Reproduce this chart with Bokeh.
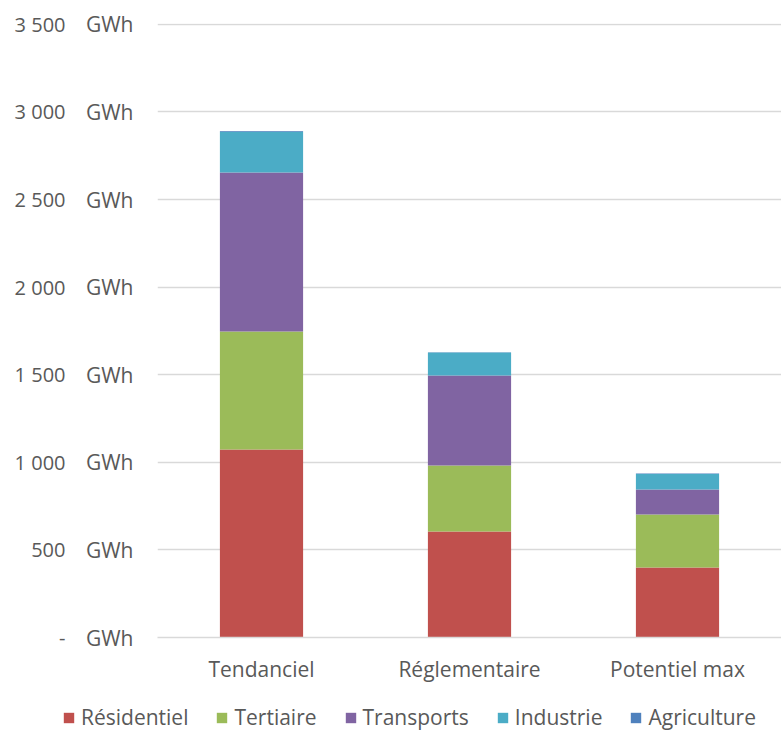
from bokeh.plotting import figure
from bokeh.models import FactorRange, Range1d, LinearAxis, FixedTicker, Legend, LegendItem
from bokeh.embed import file_html
from bokeh.resources import INLINE

scenarios = ["Tendanciel", "Réglementaire", "Potentiel max"]
secteurs = ["Résidentiel", "Tertiaire", "Transports", "Industrie", "Agriculture"]
residentiel = [1073, 605, 400]
tertiaire = [674, 377, 302]
transports = [908, 514, 143]
industrie = [232, 131, 89]
agriculture = [5, 2, 2]
colors = ["#C0504D", "#9BBB59", "#8064A2", "#4BACC6", "#4F81BD"]
y_ticks = [0, 500, 1000, 1500, 2000, 2500, 3000, 3500]
y_tick_labels = ["-", "500", "1 000", "1 500", "2 000", "2 500", "3 000", "3 500"]

FONT = "Open Sans"
FS = "21px"
FS_NUM = "20px"
TXT = "#595959"

data = dict(x=scenarios, **{s: v for s, v in zip(secteurs, [residentiel, tertiaire, transports, industrie, agriculture])})

p = figure(x_range=FactorRange(*scenarios, range_padding=0), y_range=Range1d(0, 3505),
           width=781, height=700, output_backend="svg", toolbar_location=None,
           y_axis_location=None)
p.min_border_top = 23
p.min_border_right = 0
p.min_border_left = 157
p.min_border_bottom = 63
p.outline_line_color = None
p.background_fill_color = "white"
p.border_fill_color = "white"

renderers = p.vbar_stack(secteurs, x="x", width=0.4, color=colors, source=data, line_color=None)

ax1 = LinearAxis(ticker=FixedTicker(ticks=y_ticks),
                 major_label_overrides={t: "GWh" for t in y_ticks})
ax2 = LinearAxis(ticker=FixedTicker(ticks=y_ticks),
                 major_label_overrides={t: l for t, l in zip(y_ticks, y_tick_labels)})
for ax, st, fs in ((ax1, 18, FS), (ax2, 11, FS_NUM)):
    ax.axis_line_color = None
    ax.major_tick_line_color = None
    ax.minor_tick_line_color = None
    ax.major_label_text_font = FONT
    ax.major_label_text_font_size = fs
    ax.major_label_text_color = TXT
    ax.major_label_standoff = st
p.add_layout(ax1, "left")
p.add_layout(ax2, "left")
ax2.major_label_text_align = "right"

p.ygrid.ticker = FixedTicker(ticks=y_ticks)
p.ygrid.grid_line_color = "#D9D9D9"
p.ygrid.grid_line_width = 1.5
p.xgrid.grid_line_color = None

p.xaxis.axis_line_color = "#D9D9D9"
p.xaxis.axis_line_width = 1.5
p.xaxis.major_tick_line_color = None
p.xaxis.minor_tick_line_color = None
p.xaxis.major_label_text_font = FONT
p.xaxis.major_label_text_font_size = FS
p.xaxis.major_label_text_color = TXT
p.xaxis.major_label_standoff = 11

# Legend strip: same stacked data as hidden renderers, only the legend is shown
lg = figure(width=781, height=34, output_backend="svg", toolbar_location=None,
            x_range=FactorRange(*scenarios), y_range=Range1d(-20, -10))
lg.min_border = 0
lg.axis.visible = False
lg.grid.visible = False
lg.outline_line_color = None
lg.border_fill_color = "white"
lg.background_fill_color = "white"
lg_renderers = lg.vbar_stack(secteurs, x="x", width=0.4, color=colors, source=data, line_color=None)
for r in lg_renderers:
    r.visible = False

legend = Legend(items=[LegendItem(label=s, renderers=[r]) for s, r in zip(secteurs, lg_renderers)],
                orientation="horizontal", location="left")
legend.label_text_font = FONT
legend.label_text_font_size = FS
legend.label_text_color = TXT
legend.glyph_width = 13
legend.glyph_height = 13
legend.spacing = 27
legend.label_standoff = 6
legend.padding = 0
legend.margin = 62
legend.border_line_color = None
legend.background_fill_alpha = 0
legend.inactive_fill_alpha = 0
lg.add_layout(legend, "center")

open("out.html", "w").write(file_html([p, lg], INLINE))
